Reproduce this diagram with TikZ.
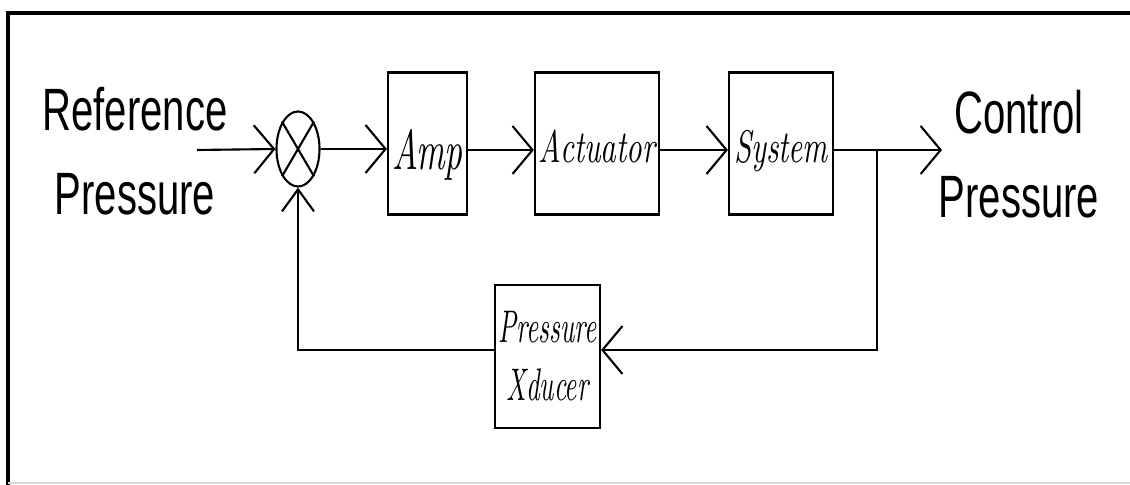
\documentclass[tikz,border=0pt]{standalone}
\usepackage{fontspec}
\usetikzlibrary{arrows.meta,shapes.geometric}
\newfontfamily\plainsans{Liberation Sans}[FakeStretch=0.67]
\newfontfamily\ampfont{lmroman10}[Extension=.otf,UprightFont=*-regular,ItalicFont=*-italic,FakeStretch=0.62]
\newfontfamily\blockfont{lmroman10}[Extension=.otf,UprightFont=*-regular,ItalicFont=*-italic,FakeStretch=0.67]
\newfontfamily\xdfont{lmroman10}[Extension=.otf,UprightFont=*-regular,ItalicFont=*-italic,FakeStretch=0.58]

\begin{document}
\begin{tikzpicture}[x=0.01cm,y=-0.01cm,line width=0.6pt,
  sig/.style={-{Straight Barb[length=2mm,width=4.8mm]}},
  blk/.style={draw,inner sep=0pt},
  rowblk/.style={blk,minimum height=1.42cm,text depth=0pt},
  lbl/.style={align=center,font=\plainsans\fontsize{17}{24}\selectfont}]
  \useasboundingbox (0,0) rectangle (1130,485);
  % frame
  \draw[line width=0.9pt] (8,485) -- (8,13) -- (1130,13);
  \draw[gray!30] (8,483) -- (1130,483);
  \coordinate (row) at (0,150);
  \coordinate (fbrow) at (0,350);
  \coordinate (in) at (197,150);
  \coordinate (out) at (942,150);
  \coordinate (br) at (877,150);
  % blocks
  \node[ellipse,draw,minimum width=0.43cm,minimum height=0.75cm,inner sep=0pt] (sum) at (298,149) {};
  \draw (sum.north west) -- (sum.south east) (sum.north east) -- (sum.south west);
  \foreach \n/\x/\w/\sz/\f/\th/\t in {amp/427.5/.79/16/\ampfont/15/Amp,
      act/597/1.24/13/\blockfont/11/Actuator,sys/781/1.04/13/\blockfont/11/System}
    \node[rowblk,minimum width=\w cm,text height=\th pt,
      font=\f\itshape\fontsize{\sz}{14}\selectfont] (\n) at (\x,143.5) {\t};
  \node[blk,align=center,minimum width=1.05cm,minimum height=1.43cm,
    font=\xdfont\itshape\fontsize{13}{16.5}\selectfont] (xd) at (547.5,356.5) {Pressure\\Xducer};
  \node[lbl] (ref) at (135,151) {Reference\\Pressure};
  \node[lbl] (ctl) at (1019,154) {Control\\Pressure};
  % signals
  \draw[sig] (in) -- (sum.west);
  \draw[sig] (sum.east) -- (amp.west |- sum.east);
  \foreach \a/\b in {amp/act,act/sys}
    \draw[sig] (\a.east |- row) -- (\b.west |- row);
  \draw[sig] (sys.east |- row) -- (out);
  \draw[sig] (br) |- (xd.east |- fbrow);
  \draw[-{Straight Barb[length=2.2mm,width=3.2mm]}] (xd.west |- fbrow) -| (sum.south);
\end{tikzpicture}
\end{document}
